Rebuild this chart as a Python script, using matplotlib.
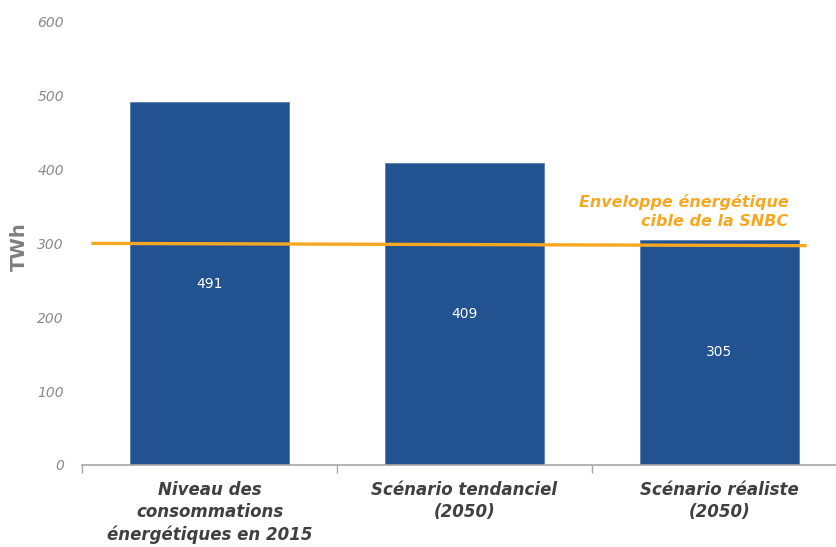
import matplotlib.pyplot as plt
import numpy as np

# Données
categories = ['Niveau des\nconsommations\nénergétiques en 2015',
              'Scénario tendanciel\n(2050)',
              'Scénario réaliste\n(2050)']
valeurs = [491, 409, 305]
enveloppe = [300, 297]   # cible SNBC (début, fin)
yticks = [0, 100, 200, 300, 400, 500, 600]

bleu = '#22528F'
orange = '#F7A823'
gris = '#404040'
police = 'DejaVu Sans'

fig = plt.figure(figsize=(8.37, 5.47), dpi=100)
ax = fig.add_axes([0.098, 0.150, 0.914, 0.810])

x = np.arange(len(categories))
ax.bar(x, valeurs, width=0.62, color=bleu, edgecolor='#5b7fb0', linewidth=0.6, zorder=2)
for xi, v in zip(x, valeurs):
    ax.text(xi, v / 2, str(v), ha='center', va='center', color='white',
            fontsize=10, family=police, zorder=4)

# Enveloppe énergétique
ax.plot([-0.457, 2.335], enveloppe, color=orange, linewidth=2.4, zorder=3)
ax.text(2.27, 319, 'Enveloppe énergétique\ncible de la SNBC', ha='right', va='bottom',
        color=orange, fontsize=11.5, fontweight='bold', fontstyle='italic',
        family=police, linespacing=1.35)

ax.set_xlim(-0.5, 2.5)
ax.set_ylim(0, 600)
ax.set_yticks(yticks)
ax.set_yticklabels([str(t) for t in yticks], fontstyle='italic', color='#8a8a8a',
                   fontsize=10, family=police)
ax.tick_params(axis='y', length=0, pad=13)

ax.set_xticks([-0.5, 0.5, 1.5, 2.5])
ax.set_xticklabels([])
ax.tick_params(axis='x', direction='out', length=6, color='#A6A6A6', width=1)
for xi, c in zip(x, categories):
    ax.text(xi, -22, c, ha='center', va='top', color=gris, fontsize=12,
            fontweight='bold', fontstyle='italic', family=police,
            linespacing=1.3, transform=ax.transData, clip_on=False)

for s in ['top', 'right', 'left']:
    ax.spines[s].set_visible(False)
ax.spines['bottom'].set_color('#A6A6A6')
ax.spines['bottom'].set_linewidth(1.2)

fig.text(0.023, 0.55, 'TWh', rotation=90, ha='center', va='center',
         color='#7f7f7f', fontsize=14, fontweight='bold', family=police)

fig.savefig('out.png', dpi=100)
